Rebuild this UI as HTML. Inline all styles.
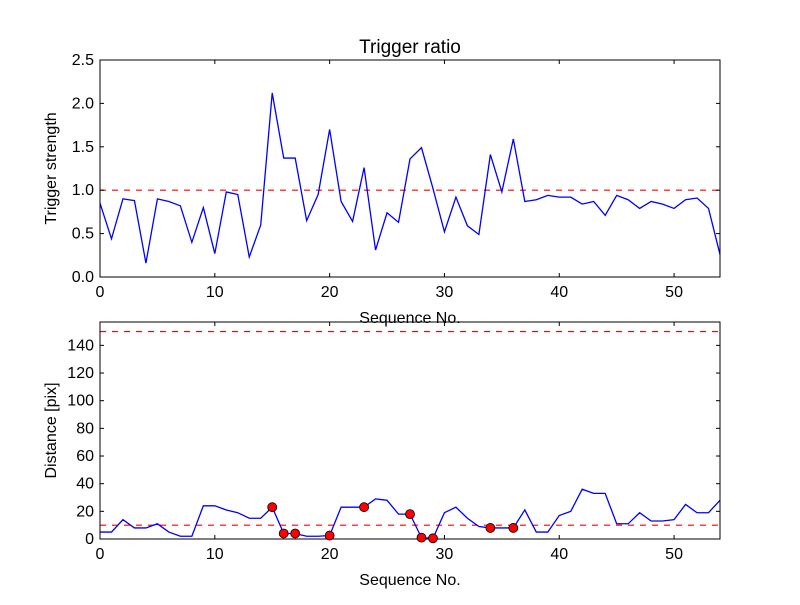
<!DOCTYPE html>
<html><head><meta charset="utf-8"><style>
body{margin:0;background:#fff;}
svg text{font-family:"Liberation Sans",sans-serif;fill:#000;}
</style></head><body>
<svg id="c" width="800" height="600" xmlns="http://www.w3.org/2000/svg"></svg>
<script>
const seq=[];for(let i=0;i<=54;i++)seq.push(i);
const ratio=[0.85,0.44,0.9,0.88,0.16,0.9,0.87,0.82,0.4,0.8,0.27,0.98,0.95,0.23,0.6,2.12,1.37,1.37,0.65,0.95,1.7,0.87,0.64,1.26,0.31,0.74,0.63,1.36,1.49,1.02,0.52,0.92,0.59,0.49,1.41,0.98,1.59,0.87,0.89,0.94,0.92,0.92,0.84,0.87,0.71,0.94,0.89,0.79,0.87,0.84,0.79,0.89,0.91,0.79,0.26];
const dist=[5,5,14,8,8,11,5,2,2,24,24,21,19,15,15,23,4,4,2,2,2.5,23,23,23,29,28,18,18,1,0.5,19,23,15,9,8,8,8,21,5,5,17,20,36,33,33,11,11,19,13,13,14,25,19,19,28];
const flagged=[15,16,17,20,23,27,28,29,34,36];
const topTicks=[0,0.5,1.0,1.5,2.0,2.5];
const botTicks=[0,20,40,60,80,100,120,140];
const xTicks=[0,10,20,30,40,50];
const ratioThresh=[1.0];
const distThresh=[10,150];
const svg=document.getElementById('c');
const NS='http://www.w3.org/2000/svg';
function mk(t,a,p){const e=document.createElementNS(NS,t);for(const k in a)e.setAttribute(k,a[k]);(p||svg).appendChild(e);return e;}
const L=100,R=720;
const xs=v=>L+(v-0)/54*(R-L);
function panel(top,bot,ymax,ticks,fmt,vals,thr,ylabel,name){
  const ys=v=>bot-v/ymax*(bot-top);
  const g=mk('g',{});
  thr.forEach(t=>{const l=mk('line',{x1:L,x2:R,y1:ys(t),y2:ys(t),stroke:'#f00','stroke-width':1.2,'stroke-dasharray':'6,6'},g);
    });
  const p=mk('polyline',{points:vals.map((v,i)=>xs(seq[i])+','+ys(v)).join(' '),fill:'none',stroke:'#00f','stroke-width':1.3},g);
  
  mk('rect',{x:L,y:top,width:R-L,height:bot-top,fill:'none',stroke:'#000','stroke-width':1},g);
  ticks.forEach(t=>{const y=ys(t);mk('line',{x1:L,x2:L+4,y1:y,y2:y,stroke:'#000'},g);mk('line',{x1:R,x2:R-4,y1:y,y2:y,stroke:'#000'},g);
    const tx=mk('text',{x:L-6,y:y+5,'text-anchor':'end','font-size':16},g);tx.textContent=fmt(t);
    });
  xTicks.forEach(t=>{const x=xs(t);mk('line',{x1:x,x2:x,y1:bot,y2:bot-4,stroke:'#000'},g);mk('line',{x1:x,x2:x,y1:top,y2:top+4,stroke:'#000'},g);
    const tx=mk('text',{x:x,y:bot+20,'text-anchor':'middle','font-size':16},g);tx.textContent=t;
    });
  const xl=mk('text',{x:410,y:bot+46,'text-anchor':'middle','font-size':16},g);xl.textContent='Sequence No.';
  
  const yl=mk('text',{x:0,y:0,'text-anchor':'middle','font-size':16,transform:`translate(56,${(top+bot)/2}) rotate(-90)`},g);yl.textContent=ylabel;
  
  return ys;
}
panel(60,277,2.5,topTicks,t=>t.toFixed(1),ratio,ratioThresh,'Trigger strength','top-panel');
const ys2=panel(322,539,156.9,botTicks,t=>String(t),dist,distThresh,'Distance [pix]','bottom-panel');
flagged.forEach(i=>{const c=mk('circle',{cx:xs(seq[i]),cy:ys2(dist[i]),r:4.5,fill:'#f00',stroke:'#000','stroke-width':0.8});
  });
const t=mk('text',{x:410,y:53,'text-anchor':'middle','font-size':19});t.textContent='Trigger ratio';

</script>
</body></html>
